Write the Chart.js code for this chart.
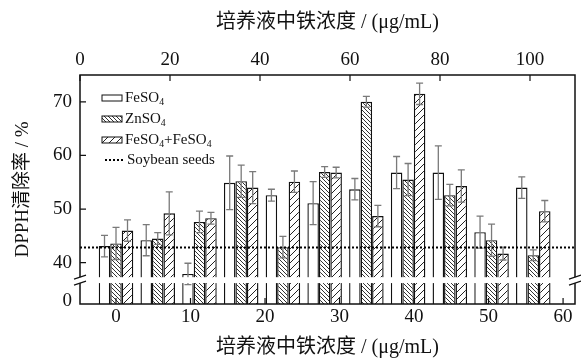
<!DOCTYPE html>
<html>
<head>
<meta charset="utf-8">
<script src="https://cdn.jsdelivr.net/npm/chart.js@4.4.0/dist/chart.umd.min.js"></script>
<style>
    html, body { margin: 0; padding: 0; background: #fff; }
</style>
</head>
<body>
<canvas id="chart" width="581" height="362"></canvas>
<script>
// Datos (11 grupos de barras)
const groups = [0, 1, 2, 3, 4, 5, 6, 7, 8, 9, 10];
const feso4 = [43.1, 44.2, 37.9, 54.9, 52.6, 51.1, 53.7, 56.8, 56.8, 45.7, 54.0];
const feso4Err = [2.0, 2.9, 2.0, 5.0, 1.1, 4.0, 2.0, 3.0, 5.0, 3.0, 2.0];
const znso4 = [43.6, 44.5, 47.6, 55.2, 42.9, 56.9, 70.0, 55.5, 52.6, 44.2, 41.4];
const znso4Err = [3.0, 1.1, 2.0, 3.0, 2.0, 1.0, 1.0, 3.0, 2.0, 3.0, 1.0];
const mixed = [46.0, 49.2, 48.3, 54.0, 55.1, 56.8, 48.7, 71.5, 54.3, 41.7, 49.6];
const mixedErr = [2.0, 4.0, 1.1, 3.0, 2.0, 1.0, 2.0, 2.0, 3.0, 1.2, 2.0];
const soybean = 42.85;

// Ejes y marcas
const yTickValues = [32.86, 40, 50, 60, 70];
const yTickLabels = ['0', '40', '50', '60', '70'];
const bottomTicks = [0, 10, 20, 30, 40, 50, 60];
const topTicks = [0, 20, 40, 60, 80, 100];
const yBreak = [36.2, 37.3];
const axisTitle = '培养液中铁浓度 / (μg/mL)';
const yTitle = 'DPPH清除率 / %';

const fam = '"Liberation Serif", "Noto Sans CJK SC", serif';
Chart.defaults.font.family = fam;
Chart.defaults.color = '#111';

const canvas = document.getElementById('chart');
const ctx = canvas.getContext('2d');

// Patrón de rayado para las barras
function makeHatch(size, color, forward) {
    const c = document.createElement('canvas');
    c.width = c.height = size;
    const g = c.getContext('2d');
    g.fillStyle = '#fff';
    g.fillRect(0, 0, size, size);
    g.strokeStyle = color;
    g.lineWidth = 1;
    g.beginPath();
    if (forward) {
        g.moveTo(-1, size + 1); g.lineTo(size + 1, -1);
        g.moveTo(-1, 1); g.lineTo(1, -1);
        g.moveTo(size - 1, size + 1); g.lineTo(size + 1, size - 1);
    } else {
        g.moveTo(-1, -1); g.lineTo(size + 1, size + 1);
        g.moveTo(-1, size - 1); g.lineTo(1, size + 1);
        g.moveTo(size - 1, -1); g.lineTo(size + 1, 1);
    }
    g.stroke();
    return ctx.createPattern(c, 'repeat');
}
const znPattern = makeHatch(4, '#333', false);
const mixPattern = makeHatch(7, '#222', true);

function toPoints(values) {
    return values.map((v, i) => ({ x: groups[i], y: v }));
}

function fixedSize(prop, size) {
    return function(scale) { scale[prop] = size; };
}

// Barras de error
const errorBars = {
    id: 'errorBars',
    afterDatasetsDraw(chart) {
        const c = chart.ctx;
        const y = chart.scales.y;
        c.save();
        c.strokeStyle = '#7a7a7a';
        c.lineWidth = 1.3;
        chart.data.datasets.forEach((ds, di) => {
            const meta = chart.getDatasetMeta(di);
            meta.data.forEach((bar, i) => {
                const v = ds.data[i].y, e = ds.errors[i];
                const top = y.getPixelForValue(v + e);
                const bot = y.getPixelForValue(v - e);
                c.beginPath();
                c.moveTo(bar.x, top); c.lineTo(bar.x, bot);
                c.moveTo(bar.x - 3.5, top); c.lineTo(bar.x + 3.5, top);
                c.moveTo(bar.x - 3.5, bot); c.lineTo(bar.x + 3.5, bot);
                c.stroke();
            });
        });
        c.restore();
    }
};

function drawFormula(c, text, x, y, size) {
    let cx = x;
    for (let k = 0; k < text.length; k++) {
        const ch = text[k];
        const sub = /\d/.test(ch) && k > 0 && /[A-Za-z]/.test(text[k - 1]);
        c.font = (sub ? size * 0.65 : size) + 'px ' + fam;
        c.fillText(ch, cx, sub ? y + size * 0.28 : y);
        cx += c.measureText(ch).width;
    }
}

// Línea de referencia, corte del eje, marco, marcas y leyenda
const overlay = {
    id: 'overlay',
    afterDraw(chart) {
        const c = chart.ctx;
        const a = chart.chartArea;
        const y = chart.scales.y;
        c.save();

        // Soybean seeds
        const ys = y.getPixelForValue(soybean);
        c.strokeStyle = '#000';
        c.lineWidth = 2;
        c.setLineDash([2, 2]);
        c.beginPath(); c.moveTo(a.left, ys); c.lineTo(a.right, ys); c.stroke();
        c.setLineDash([]);

        // Marco
        const b1 = y.getPixelForValue(yBreak[1]);
        const b2 = y.getPixelForValue(yBreak[0]);
        c.strokeStyle = '#111';
        c.lineWidth = 1.5;
        c.strokeRect(a.left, a.top, a.right - a.left, a.bottom - a.top);

        // Marcas hacia dentro
        c.lineWidth = 1.2;
        c.beginPath();
        y.ticks.forEach(t => {
            if (t.value < yBreak[0]) return;
            const p = y.getPixelForValue(t.value);
            c.moveTo(a.left, p); c.lineTo(a.left + 6, p);
        });
        chart.scales.xb.ticks.forEach(t => {
            const p = chart.scales.xb.getPixelForValue(t.value);
            c.moveTo(p, a.bottom); c.lineTo(p, a.bottom - 6);
        });
        chart.scales.xt.ticks.forEach(t => {
            const p = chart.scales.xt.getPixelForValue(t.value);
            c.moveTo(p, a.top); c.lineTo(p, a.top + 6);
        });
        c.stroke();

        // Corte del eje
        c.fillStyle = '#fff';
        c.fillRect(a.left - 2, b1, a.right - a.left + 4, b2 - b1);
        c.lineWidth = 1.2;
        c.beginPath();
        [a.left, a.right].forEach(xp => {
            c.moveTo(xp - 6, b1 + 2); c.lineTo(xp + 6, b1 - 2);
            c.moveTo(xp - 6, b2 + 2); c.lineTo(xp + 6, b2 - 2);
        });
        c.stroke();

        // Leyenda
        const rows = [98, 119, 140, 160];
        const boxX = 102, boxW = 20, boxH = 6, textX = 125;
        c.textBaseline = 'middle';
        c.fillStyle = '#111';
        chart.data.datasets.forEach((ds, i) => {
            c.fillStyle = ds.backgroundColor;
            c.fillRect(boxX, rows[i] - boxH / 2, boxW, boxH);
            c.strokeStyle = '#111';
            c.lineWidth = 1;
            c.strokeRect(boxX, rows[i] - boxH / 2, boxW, boxH);
            c.fillStyle = '#111';
            drawFormula(c, ds.label, textX, rows[i], 15);
        });
        c.strokeStyle = '#000';
        c.lineWidth = 2;
        c.setLineDash([2, 2]);
        c.beginPath(); c.moveTo(105, rows[3]); c.lineTo(123, rows[3]); c.stroke();
        c.setLineDash([]);
        c.font = '15px ' + fam;
        c.fillText('Soybean seeds', 127, rows[3]);

        c.restore();
    }
};

const barStyle = {
    borderColor: '#111',
    borderWidth: 1.4,
    borderSkipped: 'start',
    categoryPercentage: 0.827,
    barPercentage: 1.0
};

new Chart(ctx, {
    type: 'bar',
    data: {
        datasets: [
            Object.assign({ label: 'FeSO4', data: toPoints(feso4), errors: feso4Err, backgroundColor: '#fff' }, barStyle),
            Object.assign({ label: 'ZnSO4', data: toPoints(znso4), errors: znso4Err, backgroundColor: znPattern }, barStyle),
            Object.assign({ label: 'FeSO4+FeSO4', data: toPoints(mixed), errors: mixedErr, backgroundColor: mixPattern }, barStyle)
        ]
    },
    options: {
        responsive: false,
        animation: false,
        devicePixelRatio: 1,
        layout: { padding: { left: 0, right: 6, top: 0, bottom: 0 } },
        plugins: {
            legend: { display: false },
            tooltip: { enabled: false }
        },
        scales: {
            x: {
                type: 'linear',
                display: false,
                offset: false,
                min: -0.863,
                max: 11.0
            },
            xb: {
                type: 'linear',
                position: 'bottom',
                offset: false,
                min: -4.83,
                max: 61.6,
                afterBuildTicks: s => { s.ticks = bottomTicks.map(v => ({ value: v })); },
                afterFit: fixedSize('height', 58),
                grid: { display: false, drawTicks: false },
                border: { display: false },
                ticks: { font: { size: 19 }, padding: 2, maxRotation: 0, autoSkip: false },
                title: { display: true, text: axisTitle, font: { size: 20 }, padding: { top: 0, bottom: 2 } }
            },
            xt: {
                type: 'linear',
                position: 'top',
                offset: false,
                min: 0,
                max: 110,
                afterBuildTicks: s => { s.ticks = topTicks.map(v => ({ value: v })); },
                afterFit: fixedSize('height', 75),
                grid: { display: false, drawTicks: false },
                border: { display: false },
                ticks: { font: { size: 19 }, padding: 4, maxRotation: 0, autoSkip: false },
                title: { display: true, text: axisTitle, font: { size: 20 }, padding: { top: 11, bottom: 0 } }
            },
            y: {
                type: 'linear',
                beginAtZero: false,
                min: 32.3,
                max: 75,
                afterBuildTicks: s => { s.ticks = yTickValues.map(v => ({ value: v })); },
                afterFit: fixedSize('width', 80),
                grid: { display: false, drawTicks: false },
                border: { display: false },
                ticks: {
                    font: { size: 19 },
                    padding: 8,
                    autoSkip: false,
                    callback: (value, index) => yTickLabels[index]
                },
                title: { display: true, text: yTitle, font: { size: 19 }, padding: { top: 12, bottom: 0 } }
            }
        }
    },
    plugins: [errorBars, overlay]
});
</script>
</body>
</html>
